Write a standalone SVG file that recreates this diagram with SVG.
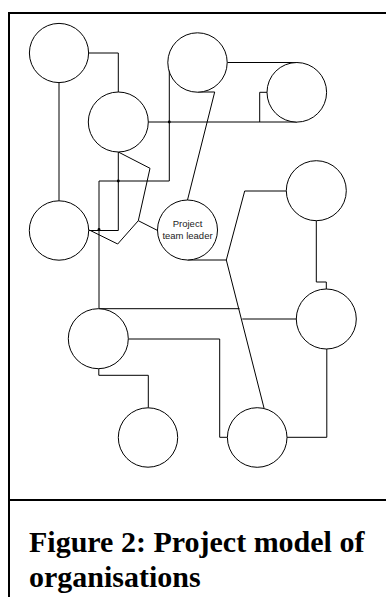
<svg xmlns="http://www.w3.org/2000/svg" width="386" height="603" viewBox="0 0 386 603">
  <style>
    .frame { fill: none; stroke: #000; stroke-width: 2; }
    .node circle { fill: #fff; stroke: #000; stroke-width: 1; }
    .wire { fill: none; stroke: #000; stroke-width: 1; }
    .dot { fill: #000; }
    .label { font-family: "Liberation Sans", Arial, sans-serif; font-size: 9.5px; fill: #222; text-anchor: middle; }
    .caption { font-family: "Liberation Serif", "Times New Roman", serif; font-size: 30px; font-weight: bold; fill: #000; }
  </style>
  <rect width="386" height="603" fill="#fff"/>

  <!-- frame -->
  <g id="frame">
    <line class="frame" x1="9" y1="13" x2="386" y2="13"/>
    <line class="frame" x1="9" y1="12" x2="9" y2="597"/>
    <line class="frame" x1="9" y1="500" x2="386" y2="500"/>
  </g>

  <!-- connectors -->
  <g id="connectors">
    <path class="wire" d="M88.7,53 H118.3 V92"/>
    <path class="wire" d="M59,82.5 V201"/>
    <path class="wire" d="M148.3,122 H297"/>
    <path class="wire" d="M259.7,122 V92.3 H267"/>
    <path class="wire" d="M227.3,62.5 H297"/>
    <path class="wire" d="M167.8,62.5 H169.3 V181 H99 V308.7"/>
    <path class="wire" d="M118.3,152 V230.5 H88.7"/>
    <path class="wire" d="M118.3,152 L150,168.3 L138.3,220.7 L117.7,244 L89.3,230"/>
    <path class="wire" d="M138.3,220.7 L158,230.7"/>
    <path class="wire" d="M197.5,92 H214.7 L187.5,200"/>
    <path class="wire" d="M187.5,260 H226.3 L244.7,191 H286.3"/>
    <path class="wire" d="M226.3,260 L264,408"/>
    <path class="wire" d="M99,308.7 H239.5"/>
    <path class="wire" d="M242.3,319 H296.3"/>
    <path class="wire" d="M316.3,220.7 V282 H326.3 V289.3"/>
    <path class="wire" d="M326.8,348.7 V437.3 H287"/>
    <path class="wire" d="M128.3,339 H219.7 V437.3 H227.3"/>
    <path class="wire" d="M98.8,368.7 V375.3 H148.3 V407.7"/>
    <circle class="dot" cx="169.3" cy="122" r="1.4"/>
    <circle class="dot" cx="118.3" cy="181" r="1.4"/>
    <circle class="dot" cx="99" cy="229.5" r="1.4"/>
  </g>

  <!-- nodes -->
  <g id="node-a" class="node"><circle cx="59" cy="53" r="29.6"/></g>
  <g id="node-b" class="node"><circle cx="118.3" cy="122" r="30"/></g>
  <g id="node-c" class="node"><circle cx="197.5" cy="62.5" r="29.7"/></g>
  <g id="node-d" class="node"><circle cx="296.8" cy="92.3" r="29.8"/></g>
  <g id="node-e" class="node"><circle cx="316.3" cy="190.7" r="30"/></g>
  <g id="node-f" class="node"><circle cx="59" cy="230.5" r="29.7"/></g>
  <g id="node-leader" class="node">
    <circle cx="187.5" cy="230" r="30"/>
    <text class="label" x="187.5" y="227.3">Project</text>
    <text class="label" x="187.5" y="238.5">team leader</text>
  </g>
  <g id="node-h" class="node"><circle cx="326.3" cy="319" r="30"/></g>
  <g id="node-i" class="node"><circle cx="98.3" cy="338.7" r="30"/></g>
  <g id="node-j" class="node"><circle cx="148" cy="437.5" r="29.7"/></g>
  <g id="node-k" class="node"><circle cx="257.2" cy="437.5" r="29.8"/></g>

  <!-- caption -->
  <g id="caption">
    <text class="caption" x="29" y="552">Figure 2: Project model of</text>
    <text class="caption" x="29" y="587">organisations</text>
  </g>
</svg>
